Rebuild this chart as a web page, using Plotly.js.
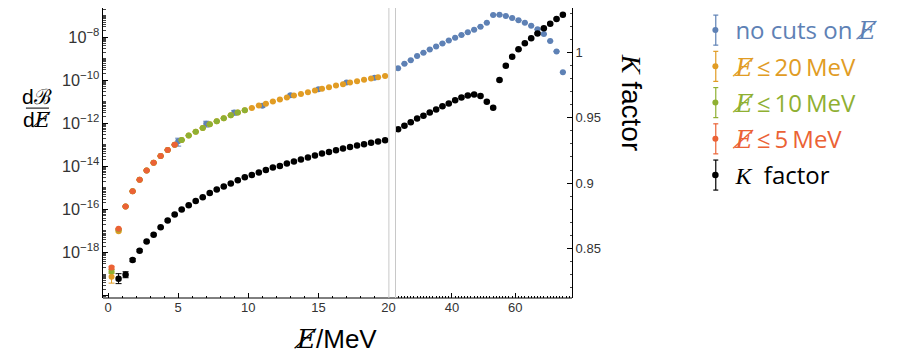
<!DOCTYPE html>
<html><head><meta charset="utf-8">
<script src="https://cdn.plot.ly/plotly-3.0.1.min.js"></script>
<style>html,body{margin:0;padding:0;background:#fff}#chart{width:898px;height:357px}</style>
</head><body><div id="chart"></div>
<script>
// ---- data ----
const xFine = [0.25,0.75,1.25,1.75,2.25,2.75,3.25,3.75,4.25,4.75,5.25,5.75,6.25,6.75,7.25,7.75,8.25,8.75,9.25,9.75,
  10.25,10.75,11.25,11.75,12.25,12.75,13.25,13.75,14.25,14.75,15.25,15.75,16.25,16.75,17.25,17.75,18.25,18.75,19.25,19.75];
const xCoarse = [5,7,9,11,13,15,17,19,23,25,27,29,31,33,35,37,39,41,43,45,47,49,51,53,55,57,59,61,63,65,67,69,71,73,75];

const redX = [0.25,0.75,1.25,1.75,2.25,2.75,3.25,3.75,4.25,4.75];
const redY = [2.0e-19,1.26e-17,1.38e-16,6.92e-16,2.40e-15,6.46e-15,1.48e-14,3.02e-14,5.75e-14,1.02e-13];
const redErr = [0.15,0.05,0.03,0.03,0.03,0.03,0.03,0.03,0.03,0.03];

const greenX = [0.25,0.75,1.25,1.75,2.25,2.75,3.25,3.75,4.25,4.75,5.25,5.75,6.25,6.75,7.25,7.75,8.25,8.75,9.25,9.75];
const greenY = [1.35e-19,1.17e-17,1.38e-16,6.92e-16,2.40e-15,6.46e-15,1.48e-14,3.02e-14,5.75e-14,1.02e-13,
  1.66e-13,2.69e-13,4.07e-13,6.03e-13,8.91e-13,1.23e-12,1.70e-12,2.34e-12,3.16e-12,3.98e-12];
const greenErr = [0.2,0.06,0.03,0.03,0.03,0.03,0.03,0.03,0.03,0.03,0.03,0.03,0.03,0.03,0.03,0.03,0.03,0.03,0.03,0.03];

const orangeY = [7.6e-20,9.8e-18,1.38e-16,6.92e-16,2.40e-15,6.46e-15,1.48e-14,3.02e-14,5.75e-14,1.02e-13,
  1.66e-13,2.69e-13,4.07e-13,6.03e-13,8.91e-13,1.23e-12,1.70e-12,2.34e-12,3.16e-12,3.98e-12,
  5.13e-12,6.61e-12,8.13e-12,1.02e-11,1.26e-11,1.55e-11,1.95e-11,2.29e-11,2.75e-11,3.31e-11,
  3.98e-11,4.68e-11,5.62e-11,6.46e-11,7.76e-11,8.91e-11,1.05e-10,1.20e-10,1.38e-10,1.58e-10];
const orangeErr = [0.5,0.08,0.03,0.03,0.03,0.03,0.03,0.03,0.03,0.03,0.03,0.03,0.03,0.03,0.03,0.03,0.03,0.03,0.03,0.03,
  0.03,0.03,0.03,0.03,0.03,0.03,0.03,0.03,0.03,0.03,0.03,0.03,0.03,0.03,0.03,0.03,0.03,0.03,0.03,0.03];

const blueY = [1.45e-13,9.55e-13,3.16e-12,6.46e-12,2.0e-11,3.80e-11,7.76e-11,1.29e-10,
  3.61e-10,5.73e-10,8.51e-10,1.31e-9,1.86e-9,2.68e-9,3.69e-9,5.09e-9,7.03e-9,9.27e-9,1.24e-8,1.66e-8,2.19e-8,3.01e-8,4.62e-8,
  1.05e-7,1.09e-7,9.48e-8,7.66e-8,5.98e-8,4.62e-8,3.36e-8,2.28e-8,1.38e-8,6.52e-9,2.16e-9,2.36e-10];
const blueErr = [0.4,0.3,0.25,0.15,0.12,0.1,0.08,0.06,
  0.03,0.03,0.03,0.03,0.03,0.03,0.03,0.03,0.03,0.03,0.03,0.03,0.03,0.03,0.03,
  0.03,0.03,0.03,0.03,0.03,0.03,0.03,0.03,0.03,0.03,0.03,0.03];

const kX = [0.75,1.25,1.75,2.25,2.75,3.25,3.75,4.25,4.75,5.25,5.75,6.25,6.75,7.25,7.75,8.25,8.75,9.25,9.75,
  10.25,10.75,11.25,11.75,12.25,12.75,13.25,13.75,14.25,14.75,15.25,15.75,16.25,16.75,17.25,17.75,18.25,18.75,19.25,19.75,
  23,25,27,29,31,33,35,37,39,41,43,45,47,49,51,53,55,57,59,61,63,65,67,69,71,73,75];
const kY = [0.8270,0.8300,0.8412,0.8484,0.8553,0.8606,0.8662,0.8714,0.8760,0.8798,0.8831,0.8864,0.8892,0.8925,0.8951,0.8974,0.8997,0.9022,0.9045,
  0.9063,0.9081,0.9101,0.9119,0.9132,0.9150,0.9165,0.9181,0.9196,0.9211,0.9227,0.9239,0.9252,0.9265,0.9277,0.9288,0.9298,0.9308,0.9319,0.9328,
  0.9413,0.9438,0.9465,0.9495,0.9516,0.9541,0.9564,0.9587,0.9609,0.9633,0.9655,0.9671,0.9678,0.9667,0.9623,0.9576,
  0.9788,0.9897,0.9966,1.0023,1.0069,1.0107,1.0145,1.0184,1.0219,1.0255,1.0288];
const kErr = [0.0038,0.0023,0.0012,0.0008,0.0006,0.0006,0.0006,0.0006,0.0006,0.0006,0.0006,0.0006,0.0006,0.0006,0.0006,0.0006,0.0006,0.0006,0.0006,
  0.0006,0.0006,0.0006,0.0006,0.0006,0.0006,0.0006,0.0006,0.0006,0.0006,0.0006,0.0006,0.0006,0.0006,0.0006,0.0006,0.0006,0.0006,0.0006,0.0006,
  0.0006,0.0006,0.0006,0.0006,0.0006,0.0006,0.0006,0.0006,0.0006,0.0006,0.0006,0.0006,0.0006,0.0006,0.0006,0.0006,
  0.0006,0.0006,0.0006,0.0006,0.0006,0.0006,0.0006,0.0006,0.0006,0.0006,0.0006];

const colors = {blue:'#5E81B5', orange:'#E19C24', green:'#8FB032', red:'#EB6235', black:'#000000'};
const legendOrder = ['blue','orange','green','red','black'];
const ES = '<span style="font-family:DejaVu Serif"><i>E\u0338</i></span>';
const names = {
  blue: '<span style="color:#5E81B5">no cuts on ' + ES + '</span>',
  orange: '<span style="color:#E19C24">' + ES + '\u2009\u2264\u200920\u2009MeV</span>',
  green: '<span style="color:#8FB032">' + ES + '\u2009\u2264\u200910\u2009MeV</span>',
  red: '<span style="color:#EB6235">' + ES + '\u2009\u2264\u20095\u2009MeV</span>',
  black: '<span style="font-family:Liberation Serif"><i>K</i></span>  factor'
};

// ---- build traces ----
function seg(x, y, err, rel, upper) {
  const o = {x:[], y:[], e:[]};
  x.forEach((v, i) => {
    if ((upper && v <= 20) || (!upper && v > 20)) {
      o.x.push(v); o.y.push(y[i]); o.e.push(rel ? err[i] * y[i] : err[i]);
    }
  });
  return o;
}
function mk(key, x, y, err, rel, yaxis, size) {
  const out = [];
  [true, false].forEach((first) => {
    const s = seg(x, y, err, rel, first);
    if (!s.x.length) return;
    out.push({
      type:'scatter', mode:'markers', x:s.x, y:s.y,
      xaxis: first ? 'x' : 'x2', yaxis: yaxis,
      name: names[key], showlegend: first, legendgroup: key,
      marker:{color:colors[key], size:size},
      error_y:{type:'data', array:s.e, visible:true, color:colors[key], thickness:1, width:3},
      hoverinfo:'x+y'
    });
  });
  return out;
}
const traces = [].concat(
  mk('blue', xCoarse, blueY, blueErr, true, 'y', 6),
  mk('orange', xFine, orangeY, orangeErr, true, 'y', 6),
  mk('green', greenX, greenY, greenErr, true, 'y', 6),
  mk('red', redX, redY, redErr, true, 'y', 6),
  mk('black', kX, kY, kErr, false, 'y2', 6.5)
);

// ---- layout ----
const L = 103, R = 571.7, T = 8, B = 297.7;
const W = R - L, H = B - T;
const px = (p) => (p - L) / W;
const py = (p) => (B - p) / H;
const brk1 = px(388.7), brk2 = px(395.3);
const tickFont = {family:'Liberation Sans, Arial, sans-serif', size:13, color:'#333'};
const axisCommon = {showgrid:false, zeroline:false, ticks:'inside', ticklen:5, tickcolor:'#000', tickwidth:1, tickfont:tickFont};

const baseShapes = [
  {type:'line', xref:'paper', yref:'paper', x0:0, x1:1, y0:0, y1:0, line:{color:'#000', width:1}},
  {type:'line', xref:'paper', yref:'paper', x0:brk1, x1:brk1, y0:0, y1:1, line:{color:'#c8c8c8', width:1}},
  {type:'line', xref:'paper', yref:'paper', x0:brk2, x1:brk2, y0:0, y1:1, line:{color:'#c8c8c8', width:1}},
  {type:'line', xref:'paper', yref:'paper', x0:px(26), x1:px(49), y0:py(108), y1:py(108), line:{color:'#000', width:1}}
];

const layout = {
  width:898, height:357,
  margin:{l:L, r:898-R, t:T, b:357-B, pad:0},
  paper_bgcolor:'#fff', plot_bgcolor:'rgba(0,0,0,0)',
  font:{family:'Liberation Sans, Arial, sans-serif', color:'#000'},
  xaxis: Object.assign({}, axisCommon, {domain:[0, brk1], range:[-0.36, 20.02], anchor:'y',
    tick0:0, dtick:5, showline:false,
    minor:{dtick:1, ticks:'inside', ticklen:2.5, tickcolor:'#000'}}),
  xaxis2: Object.assign({}, axisCommon, {domain:[brk2, 1], range:[22.18, 77.88], anchor:'y',
    tick0:0, dtick:20, showline:false,
    minor:{dtick:1, ticks:'inside', ticklen:2.5, tickcolor:'#000'}}),
  yaxis: Object.assign({}, axisCommon, {type:'log', range:[-20.11, -6.65], anchor:'x', side:'left',
    tick0:0, dtick:2, exponentformat:'power', ticklabeloverflow:'hide past domain',
    showline:true, linecolor:'#000', linewidth:1,
    minor:{dtick:'D1', ticks:'inside', ticklen:3, tickcolor:'#444'}}),
  yaxis2: Object.assign({}, axisCommon, {overlaying:'y', side:'right', anchor:'x2', range:[0.8122, 1.0339],
    tick0:0, dtick:0.05, showline:true, linecolor:'#000', linewidth:1,
    minor:{dtick:0.01, ticks:'inside', ticklen:2.5, tickcolor:'#444'}}),
  showlegend:true,
  legend:{x:px(695), y:1, xanchor:'left', yanchor:'top', bgcolor:'rgba(0,0,0,0)',
    font:{family:'Open Sans, Noto Sans, sans-serif', size:24}, itemwidth:30, tracegroupgap:2},
  shapes: baseShapes.slice(),
  annotations:[
    {xref:'paper', yref:'paper', x:px(37.5), y:py(96), text:'d\u212C', showarrow:false,
      font:{family:'Liberation Sans, Arial, sans-serif', size:21}, xanchor:'center', yanchor:'middle'},
    {xref:'paper', yref:'paper', x:px(37.5), y:py(120), text:'d' + ES, showarrow:false,
      font:{family:'Liberation Sans, Arial, sans-serif', size:21}, xanchor:'center', yanchor:'middle'},
    {xref:'paper', yref:'paper', x:px(335), y:py(339), text:ES + '/MeV', showarrow:false,
      font:{family:'Liberation Sans, Arial, sans-serif', size:26}, xanchor:'center', yanchor:'middle'},
    {xref:'paper', yref:'paper', x:px(632), y:py(103), text:'<span style="font-family:Liberation Serif"><i>K</i></span> factor', showarrow:false,
      textangle:90, font:{family:'Liberation Sans, Arial, sans-serif', size:28}, xanchor:'center', yanchor:'middle'}
  ]
};

Plotly.newPlot('chart', traces, layout, {displayModeBar:false, staticPlot:true}).then((gd) => {
  // legend error-bar glyphs, drawn at the legend symbols' positions
  const root = gd.getBoundingClientRect();
  const pts = gd.querySelectorAll('.legend .traces .legendpoints path.scatterpts');
  const extra = [];
  pts.forEach((p, i) => {
    const r = p.getBoundingClientRect();
    const cx = r.left + r.width / 2 - root.left, cy = r.top + r.height / 2 - root.top;
    const c = colors[legendOrder[i]] || '#000';
    const ln = {color:c, width:1.2};
    extra.push({type:'line', xref:'paper', yref:'paper', layer:'below', x0:px(cx), x1:px(cx), y0:py(cy-15), y1:py(cy+15), line:ln});
    extra.push({type:'line', xref:'paper', yref:'paper', layer:'below', x0:px(cx-2.5), x1:px(cx+2.5), y0:py(cy-15), y1:py(cy-15), line:ln});
    extra.push({type:'line', xref:'paper', yref:'paper', layer:'below', x0:px(cx-2.5), x1:px(cx+2.5), y0:py(cy+15), y1:py(cy+15), line:ln});
  });
  return Plotly.relayout(gd, {shapes: baseShapes.concat(extra)});
});
</script></body></html>
